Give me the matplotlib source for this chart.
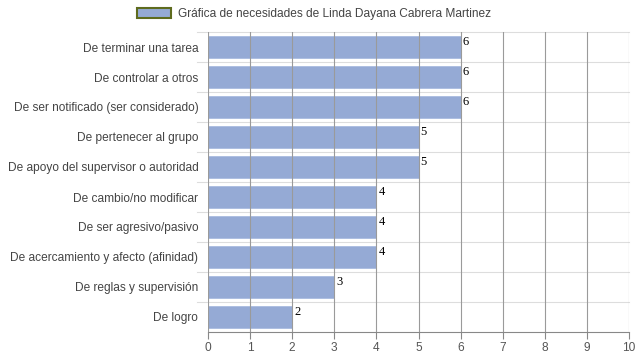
import matplotlib
matplotlib.use("Agg")
import matplotlib.pyplot as plt
from matplotlib.patches import Patch

categories = [
    "De terminar una tarea",
    "De controlar a otros",
    "De ser notificado (ser considerado)",
    "De pertenecer al grupo",
    "De apoyo del supervisor o autoridad",
    "De cambio/no modificar",
    "De ser agresivo/pasivo",
    "De acercamiento y afecto (afinidad)",
    "De reglas y supervisión",
    "De logro",
]
values = [6, 6, 6, 5, 5, 4, 4, 4, 3, 2]
series_name = "Gráfica de necesidades de Linda Dayana Cabrera Martinez"
xticks = list(range(0, 11))

bar_color = "#95aad5"
fig = plt.figure(figsize=(6.39, 3.6), dpi=100)
ax = fig.add_axes([208/639, 1-332/360, 421/639, 300/360])

n = len(categories)
ypos = list(range(n))
ax.barh(ypos, values, height=0.74, color=bar_color, edgecolor="#a9bbe0", linewidth=0.6, zorder=2)
ax.set_ylim(n - 0.5, -0.5)
ax.set_xlim(0, 10)

# vertical grid over bars
for x in xticks:
    ax.axvline(x, color="#9a9a9a", linewidth=0.8, zorder=3)
# horizontal category separators
for b in range(n):
    ax.axhline(b - 0.5, color="#dddddd", linewidth=0.8, zorder=1, xmin=-0.025, clip_on=False)

for y, v in zip(ypos, values):
    ax.text(v + 0.05, y - 0.38, str(v), fontsize=9, family="Liberation Serif",
            va="top", ha="left", color="black", zorder=4)

ax.set_yticks(ypos)
ax.set_yticklabels(categories, fontsize=8.6, family="Liberation Sans", color="#444444")
ax.set_xticks(xticks)
ax.set_xticklabels([str(x) for x in xticks], fontsize=8.6, family="Liberation Sans", color="#555555")
ax.tick_params(axis="y", length=0, pad=7)
for lbl in ax.get_yticklabels():
    lbl.set_y(lbl.get_position()[1])
ax.tick_params(axis="x", length=5, color="#888888", pad=2, direction="out")
for s in ["top", "right", "left"]:
    ax.spines[s].set_visible(False)
ax.spines["bottom"].set_color("#888888")
ax.spines["bottom"].set_linewidth(0.8)

handle = Patch(facecolor=bar_color, edgecolor="#5e6b1e", linewidth=1.5)
fig.legend([handle], [series_name], loc="center", bbox_to_anchor=(314/639, 1-14/360),
           frameon=False, prop={"family": "Liberation Sans", "size": 8.6},
           handlelength=2.9, handleheight=1.0, handletextpad=0.6, labelcolor="#444444")

fig.savefig("out.png", dpi=100)
